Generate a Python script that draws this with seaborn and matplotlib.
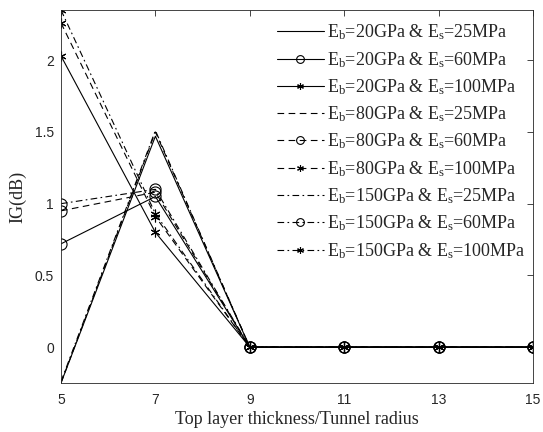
import numpy as np
import pandas as pd
import matplotlib
matplotlib.use("Agg")
import matplotlib.pyplot as plt
import seaborn as sns

# thickness ratio (top layer thickness / tunnel radius)
ratio = [5, 7, 9, 11, 13, 15]

# insertion gain in dB, one list per (Eb, Es) pair
ig_20_25 = [-0.25, 1.47, 0, 0, 0, 0]
ig_20_60 = [0.72, 1.05, 0, 0, 0, 0]
ig_20_100 = [2.03, 0.80, 0, 0, 0, 0]
ig_80_25 = [-0.25, 1.50, 0, 0, 0, 0]
ig_80_60 = [0.95, 1.08, 0, 0, 0, 0]
ig_80_100 = [2.26, 0.91, 0, 0, 0, 0]
ig_150_25 = [-0.24, 1.51, 0, 0, 0, 0]
ig_150_60 = [1.00, 1.10, 0, 0, 0, 0]
ig_150_100 = [2.35, 0.93, 0, 0, 0, 0]

eb_values = ["20", "80", "150"]
es_values = ["25", "60", "100"]
series = [ig_20_25, ig_20_60, ig_20_100,
          ig_80_25, ig_80_60, ig_80_100,
          ig_150_25, ig_150_60, ig_150_100]

sns.set_style("white")
plt.rcParams["font.family"] = ["Liberation Serif", "DejaVu Serif"]
plt.rcParams["mathtext.fontset"] = "custom"
plt.rcParams["mathtext.rm"] = "Liberation Serif"
plt.rcParams["mathtext.it"] = "Liberation Serif:italic"
plt.rcParams["xtick.direction"] = "in"
plt.rcParams["ytick.direction"] = "in"

line_styles = {"20": "-", "80": (0, (6, 4)), "150": (0, (6, 3, 1.5, 3))}
marker_styles = {"25": None, "60": "o", "100": (6, 2, 0)}

fig = plt.figure(figsize=(5.43, 4.32), dpi=100)
ax = fig.add_axes([0.1123, 0.1134, 0.8693, 0.8635])

k = 0
for eb in eb_values:
    for es in es_values:
        df = pd.DataFrame({"ratio": ratio, "ig": series[k]})
        label = r"E$_\mathrm{b}$=" + eb + r"GPa & E$_\mathrm{s}$=" + es + "MPa"
        mk = marker_styles[es]
        sns.lineplot(data=df, x="ratio", y="ig", ax=ax, color="black",
                     linestyle=line_styles[eb], linewidth=0.8,
                     marker=mk, markersize=8 if es == "60" else 7,
                     markerfacecolor="none", markeredgecolor="black",
                     markeredgewidth=0.8, label=label)
        k += 1

ax.set_xlim(5, 15)
ax.set_ylim(-0.25, 2.35)
ax.set_xticks([5, 7, 9, 11, 13, 15])
ax.set_yticks([0, 0.5, 1, 1.5, 2])
ax.set_yticklabels(["0", "0.5", "1", "1.5", "2"])
for lbl in ax.get_xticklabels() + ax.get_yticklabels():
    lbl.set_family("Liberation Sans")
    lbl.set_fontsize(10)
    lbl.set_color("#262626")
ax.tick_params(top=True, right=True, length=4, width=0.6, colors="#262626")
ax.tick_params(axis="x", pad=7)
ax.tick_params(axis="y", pad=5)
for sp in ax.spines.values():
    sp.set_linewidth(0.6)
    sp.set_color("#262626")

ax.set_xlabel("Top layer thickness/Tunnel radius", fontsize=13, labelpad=3)
ax.set_ylabel("IG(dB)", fontsize=13, labelpad=6)

leg = ax.legend(loc="upper right", bbox_to_anchor=(1.01, 1.0), frameon=False,
                fontsize=13, handlelength=2.6, handletextpad=0.15,
                labelspacing=0.42, borderaxespad=0.3, markerscale=0.7)

fig.savefig("out.png", dpi=100)
